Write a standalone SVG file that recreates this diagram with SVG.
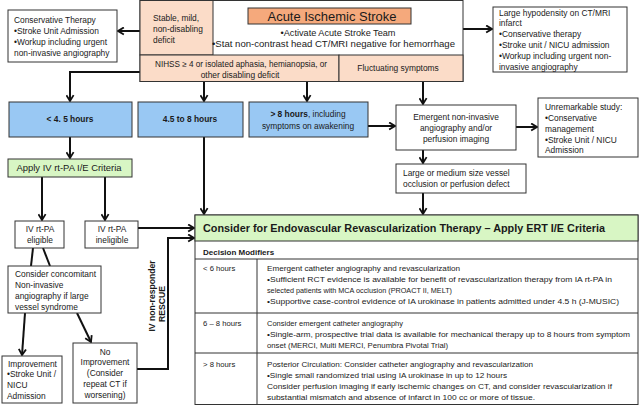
<svg xmlns="http://www.w3.org/2000/svg" width="640" height="406" viewBox="0 0 640 406">
<style>
.bx{fill:#fff;stroke:#333;stroke-width:1}
.pk{fill:#fbdcc8;stroke:#333;stroke-width:1}
.or{fill:#f5a97c;stroke:#333;stroke-width:1}
.bl{fill:#99c8f3;stroke:#333;stroke-width:1}
.gr{fill:#d8f6c4;stroke:#333;stroke-width:1}
.t{font-family:"Liberation Sans",Arial,sans-serif;font-size:8.4px;fill:#1a1a1a}
.s{font-size:7.7px}
.c{text-anchor:middle}
.b{font-weight:bold}
.ln{stroke:#111;stroke-width:2;fill:none}
.ar{marker-end:url(#ah)}
.tl{stroke:#333;stroke-width:1;fill:none}
</style>
<defs>
<marker id="ah" viewBox="0 0 10 10" refX="8.5" refY="5" markerWidth="9" markerHeight="9" markerUnits="userSpaceOnUse" orient="auto">
<path d="M2,1 L8.5,5 L2,9" fill="none" stroke="#111" stroke-width="2"/>
</marker>
</defs>
<rect width="640" height="406" fill="#fff"/>

<g id="connectors">
<path class="ln ar" d="M140,31 H118"/>
<path class="ln ar" d="M463,29 H492"/>
<path class="ln ar" d="M140,72 H70 V101"/>
<path class="ln ar" d="M204,81 V101"/>
<path class="ln ar" d="M307,81 V101"/>
<path class="ln ar" d="M423,81 V104"/>
<path class="ln ar" d="M368,126 H395"/>
<path class="ln ar" d="M516,127 H537"/>
<path class="ln ar" d="M423,150 V163"/>
<path class="ln ar" d="M423,193 V214"/>
<path class="ln ar" d="M204,137 V214"/>
<path class="ln ar" d="M70,137 V158"/>
<path class="ln ar" d="M42,177 V220"/>
<path class="ln ar" d="M105,177 V220"/>
<path class="ln ar" d="M138,228 H194"/>
<path class="ln ar" d="M137,369 H168 V238 H194"/>
<path class="ln" d="M33,248 L31,266"/>
<path class="ln" d="M43,248 L50,266"/>
<path class="ln ar" d="M25,313 L22,355"/>
<path class="ln ar" d="M77,313 L91,342"/>
</g>

<g id="conservative">
<rect class="bx" x="8" y="10" width="109" height="52"/>
<text class="t" x="14" y="23">Conservative Therapy</text>
<text class="t" x="14" y="34">•Stroke Unit Admission</text>
<text class="t" x="14" y="45">•Workup including urgent</text>
<text class="t" x="14" y="56">non-invasive angiography</text>
</g>

<g id="acute">
<rect class="bx" x="140" y="0.5" width="323" height="81"/>
<rect class="pk" x="140" y="0.5" width="73" height="54.5"/>
<rect class="pk" x="140" y="55" width="199" height="26.5"/>
<rect class="pk" x="339" y="55" width="124" height="26.5"/>
<rect class="or" x="248" y="8" width="163" height="16"/>
<text class="t" x="332" y="21" text-anchor="middle" style="font-size:13px" textLength="129" lengthAdjust="spacingAndGlyphs">Acute Ischemic Stroke</text>
<text class="t" x="338" y="36" text-anchor="middle" style="font-size:9px" textLength="115" lengthAdjust="spacingAndGlyphs">•Activate Acute Stroke Team</text>
<text class="t" x="212" y="47" style="font-size:9px" textLength="243" lengthAdjust="spacingAndGlyphs">•Stat non-contrast head CT/MRI negative for hemorrhage</text>
<text class="t" x="153" y="21">Stable, mild,</text>
<text class="t" x="153" y="32">non-disabling</text>
<text class="t" x="153" y="43">deficit</text>
<text class="t c" x="241" y="67" textLength="172" lengthAdjust="spacingAndGlyphs">NIHSS ≥ 4 or isolated aphasia, hemianopsia, or</text>
<text class="t c" x="240" y="78">other disabling deficit</text>
<text class="t c" x="398" y="71">Fluctuating symptoms</text>
</g>

<g id="hypodensity">
<rect class="bx" x="493" y="7" width="134" height="65"/>
<text class="t" x="499" y="16">Large hypodensity on CT/MRI</text>
<text class="t" x="499" y="26">infarct</text>
<text class="t" x="499" y="37">•Conservative therapy</text>
<text class="t" x="499" y="48">•Stroke unit / NICU admission</text>
<text class="t" x="499" y="59">•Workup including urgent non-</text>
<text class="t" x="499" y="70">invasive angiography</text>
</g>

<g id="lt45">
<rect class="bl" x="9" y="102" width="123" height="35"/>
<text class="t c b" x="70" y="122">&lt; 4. 5 hours</text>
</g>

<g id="h45to8">
<rect class="bl" x="138" y="102" width="105" height="35"/>
<text class="t c b" x="190" y="122">4.5 to 8 hours</text>
</g>

<g id="gt8">
<rect class="bl" x="249" y="102" width="119" height="35"/>
<text class="t c" x="308" y="117"><tspan class="b">&gt; 8 hours</tspan>, including</text>
<text class="t c" x="308" y="129">symptoms on awakening</text>
</g>

<g id="emergent">
<rect class="bx" x="396" y="105" width="120" height="45"/>
<text class="t c" x="456" y="120">Emergent non-invasive</text>
<text class="t c" x="456" y="131">angiography and/or</text>
<text class="t c" x="456" y="142">perfusion imaging</text>
</g>

<g id="unremarkable">
<rect class="bx" x="538" y="98" width="100" height="59"/>
<text class="t" x="545" y="110">Unremarkable study:</text>
<text class="t" x="545" y="121">•Conservative</text>
<text class="t" x="545" y="132">management</text>
<text class="t" x="545" y="143">•Stroke Unit / NICU</text>
<text class="t" x="545" y="153">Admission</text>
</g>

<g id="occlusion">
<rect class="bx" x="396" y="164" width="130" height="29"/>
<text class="t" x="403" y="176">Large or medium size vessel</text>
<text class="t" x="403" y="187">occlusion or perfusion defect</text>
</g>

<g id="apply">
<rect class="gr" x="8" y="159" width="124" height="18"/>
<text class="t c" x="69" y="171" textLength="105" lengthAdjust="spacingAndGlyphs">Apply IV rt-PA  I/E Criteria</text>
</g>

<g id="eligible">
<rect class="bx" x="15" y="221" width="49" height="27"/>
<text class="t c" x="40" y="232">IV rt-PA</text>
<text class="t c" x="40" y="243">eligible</text>
</g>

<g id="ineligible">
<rect class="bx" x="85" y="221" width="53" height="27"/>
<text class="t c" x="112" y="232">IV rt-PA</text>
<text class="t c" x="112" y="243">ineligible</text>
</g>

<g id="concomitant">
<rect class="bx" x="8" y="266" width="93" height="47"/>
<text class="t" x="15" y="277">Consider concomitant</text>
<text class="t" x="15" y="288">Non-invasive</text>
<text class="t" x="15" y="299">angiography if large</text>
<text class="t" x="15" y="310">vessel syndrome</text>
</g>

<g id="improvement">
<rect class="bx" x="2" y="356" width="60" height="47"/>
<text class="t" x="8" y="367">Improvement</text>
<text class="t" x="7" y="377">•Stroke Unit /</text>
<text class="t" x="7" y="388">NICU</text>
<text class="t" x="7" y="399">Admission</text>
</g>

<g id="noimprovement">
<rect class="bx" x="73" y="343" width="64" height="60"/>
<text class="t c" x="105" y="355">No</text>
<text class="t c" x="105" y="365">Improvement</text>
<text class="t c" x="105" y="376">(Consider</text>
<text class="t c" x="105" y="387">repeat CT if</text>
<text class="t c" x="105" y="398">worsening)</text>
</g>

<g id="rescue">
<text class="t c b" transform="translate(155,296) rotate(-90)" style="font-size:8.6px">IV non-responder</text>
<text class="t c b" transform="translate(165,304) rotate(-90)" style="font-size:8.6px">RESCUE</text>
</g>

<g id="ert">
<rect class="bx" x="195" y="215" width="443" height="189.5"/>
<rect class="gr" x="195" y="215" width="443" height="26"/>
<text class="t b" x="203" y="232" style="font-size:11px" textLength="402" lengthAdjust="spacingAndGlyphs">Consider for Endovascular Revascularization Therapy – Apply ERT I/E Criteria</text>
<path class="tl" d="M195,259 H638 M257,259 V404.5 M195,313 H638 M195,353 H638"/>
<text class="t b" x="203" y="255" style="font-size:8px">Decision Modifiers</text>
<text class="t s" x="203" y="271">&lt; 6 hours</text>
<text class="t s" x="267" y="271" textLength="193" lengthAdjust="spacingAndGlyphs">Emergent catheter angiography and revascularization</text>
<text class="t s" x="267" y="282" textLength="345" lengthAdjust="spacingAndGlyphs">•Sufficient RCT evidence is available for benefit of revascularization therapy from IA rt-PA in</text>
<text class="t s" x="267" y="293" textLength="185" lengthAdjust="spacingAndGlyphs">selected patients with MCA occlusion (PROACT II, MELT)</text>
<text class="t s" x="267" y="304" textLength="352" lengthAdjust="spacingAndGlyphs">•Supportive case-control evidence of IA urokinase in patients admitted under 4.5 h (J-MUSIC)</text>
<text class="t s" x="203" y="326">6 – 8 hours</text>
<text class="t s" x="267" y="326" textLength="136" lengthAdjust="spacingAndGlyphs">Consider emergent catheter angiography</text>
<text class="t s" x="267" y="337" textLength="363" lengthAdjust="spacingAndGlyphs">•Single-arm, prospective trial data is available for mechanical therapy up to 8 hours from symptom</text>
<text class="t s" x="267" y="348" textLength="181" lengthAdjust="spacingAndGlyphs">onset (MERCI, Multi MERCI, Penumbra Pivotal Trial)</text>
<text class="t s" x="203" y="367">&gt; 8 hours</text>
<text class="t s" x="267" y="367" textLength="266" lengthAdjust="spacingAndGlyphs">Posterior Circulation: Consider catheter angiography and revascularization</text>
<text class="t s" x="267" y="378" textLength="240" lengthAdjust="spacingAndGlyphs">•Single small randomized trial using IA urokinase in up to 12 hours</text>
<text class="t s" x="267" y="389" textLength="345" lengthAdjust="spacingAndGlyphs">Consider perfusion imaging if early ischemic changes on CT, and consider revascularization if</text>
<text class="t s" x="267" y="400" textLength="268" lengthAdjust="spacingAndGlyphs">substantial mismatch and absence of infarct in 100 cc or more of tissue.</text>
</g>
</svg>
